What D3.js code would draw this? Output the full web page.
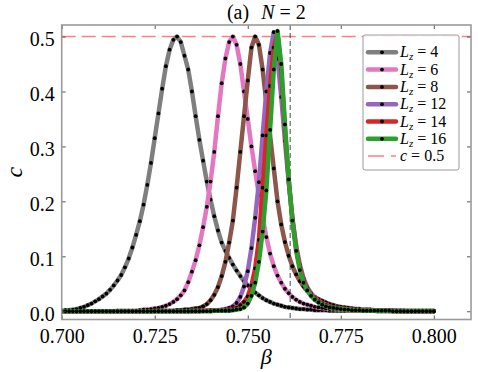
<!DOCTYPE html>
<html>
<head>
<meta charset="utf-8">
<script src="https://cdn.jsdelivr.net/npm/d3@7"></script>
<style>
  body { margin: 0; background: #fff; }
  svg text, svg tspan { font-family: "Liberation Serif", "Times New Roman", serif; }
</style>
</head>
<body>
<div id="chart"></div>
<script>
// beta grid (0.700 .. 0.800, one point every 0.001)
const betas = [
  0.700,0.701,0.702,0.703,0.704,0.705,0.706,0.707,0.708,0.709,
  0.710,0.711,0.712,0.713,0.714,0.715,0.716,0.717,0.718,0.719,
  0.720,0.721,0.722,0.723,0.724,0.725,0.726,0.727,0.728,0.729,
  0.730,0.731,0.732,0.733,0.734,0.735,0.736,0.737,0.738,0.739,
  0.740,0.741,0.742,0.743,0.744,0.745,0.746,0.747,0.748,0.749,
  0.750,0.751,0.752,0.753,0.754,0.755,0.756,0.757,0.758,0.759,
  0.760,0.761,0.762,0.763,0.764,0.765,0.766,0.767,0.768,0.769,
  0.770,0.771,0.772,0.773,0.774,0.775,0.776,0.777,0.778,0.779,
  0.780,0.781,0.782,0.783,0.784,0.785,0.786,0.787,0.788,0.789,
  0.790,0.791,0.792,0.793,0.794,0.795,0.796,0.797,0.798,0.799,
  0.800
];

const cLz4 = [
  0.001,0.002,0.002,0.003,0.004,0.006,0.008,0.011,0.014,0.018,
  0.022,0.027,0.032,0.039,0.047,0.056,0.066,0.080,0.096,0.116,
  0.139,0.164,0.194,0.230,0.270,0.315,0.360,0.405,0.446,0.476,
  0.494,0.500,0.490,0.465,0.440,0.400,0.355,0.312,0.274,0.236,
  0.203,0.173,0.147,0.125,0.110,0.097,0.085,0.074,0.064,0.055,
  0.047,0.040,0.034,0.029,0.024,0.020,0.017,0.014,0.012,0.010,
  0.008,0.007,0.006,0.005,0.004,0.004,0.003,0.003,0.002,0.002,
  0.002,0.002,0.001,0.001,0.001,0.001,0.001,0.001,0.001,0.001,
  0.001,0.001,0.001,0.001,0.001,0.000,0.000,0.000,0.000,0.000,
  0.000,0.000,0.000,0.000,0.000,0.000,0.000,0.000,0.000,0.000,
  0.000
];

const cLz6 = [
  0.000,0.000,0.000,0.000,0.000,0.000,0.000,0.000,0.000,0.000,
  0.000,0.000,0.000,0.000,0.000,0.001,0.001,0.001,0.001,0.001,
  0.001,0.002,0.003,0.003,0.004,0.005,0.006,0.008,0.010,0.013,
  0.017,0.022,0.029,0.038,0.053,0.072,0.093,0.120,0.153,0.190,
  0.236,0.290,0.355,0.415,0.460,0.490,0.500,0.485,0.450,0.400,
  0.350,0.300,0.255,0.212,0.172,0.135,0.105,0.082,0.065,0.052,
  0.041,0.033,0.026,0.021,0.017,0.014,0.012,0.010,0.008,0.007,
  0.006,0.005,0.004,0.004,0.003,0.003,0.003,0.002,0.002,0.002,
  0.002,0.001,0.001,0.001,0.001,0.001,0.001,0.001,0.001,0.001,
  0.001,0.001,0.000,0.000,0.000,0.000,0.000,0.000,0.000,0.000,
  0.000
];

const cLz8 = [
  0.000,0.000,0.000,0.000,0.000,0.000,0.000,0.000,0.000,0.000,
  0.000,0.000,0.000,0.000,0.000,0.000,0.000,0.000,0.000,0.000,
  0.000,0.000,0.000,0.000,0.000,0.001,0.001,0.001,0.001,0.001,
  0.001,0.002,0.002,0.003,0.003,0.004,0.005,0.006,0.009,0.013,
  0.020,0.030,0.044,0.064,0.090,0.125,0.165,0.225,0.290,0.355,
  0.420,0.480,0.500,0.485,0.440,0.380,0.320,0.260,0.200,0.158,
  0.126,0.101,0.082,0.067,0.055,0.045,0.037,0.031,0.026,0.022,
  0.019,0.016,0.013,0.011,0.009,0.008,0.007,0.006,0.005,0.004,
  0.004,0.003,0.003,0.003,0.002,0.002,0.002,0.002,0.002,0.001,
  0.001,0.001,0.001,0.001,0.001,0.001,0.001,0.001,0.001,0.001,
  0.001
];

const cLz12 = [
  0.000,0.000,0.000,0.000,0.000,0.000,0.000,0.000,0.000,0.000,
  0.000,0.000,0.000,0.000,0.000,0.000,0.000,0.000,0.000,0.000,
  0.000,0.000,0.000,0.000,0.000,0.000,0.000,0.000,0.000,0.000,
  0.000,0.000,0.000,0.000,0.000,0.001,0.001,0.001,0.001,0.001,
  0.002,0.002,0.002,0.003,0.004,0.006,0.009,0.015,0.026,0.045,
  0.073,0.115,0.170,0.235,0.320,0.400,0.470,0.508,0.460,0.390,
  0.310,0.235,0.170,0.120,0.085,0.060,0.044,0.033,0.025,0.019,
  0.015,0.012,0.009,0.007,0.006,0.005,0.004,0.003,0.003,0.002,
  0.002,0.002,0.002,0.001,0.001,0.001,0.001,0.001,0.001,0.001,
  0.001,0.001,0.001,0.000,0.000,0.000,0.000,0.000,0.000,0.000,
  0.000
];

const cLz14 = [
  0.000,0.000,0.000,0.000,0.000,0.000,0.000,0.000,0.000,0.000,
  0.000,0.000,0.000,0.000,0.000,0.000,0.000,0.000,0.000,0.000,
  0.000,0.000,0.000,0.000,0.000,0.000,0.000,0.000,0.000,0.000,
  0.000,0.000,0.000,0.000,0.000,0.000,0.000,0.000,0.001,0.001,
  0.001,0.001,0.001,0.002,0.002,0.003,0.004,0.006,0.011,0.017,
  0.027,0.047,0.078,0.130,0.225,0.320,0.410,0.480,0.505,0.440,
  0.330,0.240,0.168,0.115,0.080,0.056,0.041,0.030,0.023,0.018,
  0.014,0.011,0.008,0.007,0.005,0.004,0.004,0.003,0.002,0.002,
  0.002,0.001,0.001,0.001,0.001,0.001,0.001,0.001,0.001,0.001,
  0.000,0.000,0.000,0.000,0.000,0.000,0.000,0.000,0.000,0.000,
  0.000
];

const cLz16 = [
  0.000,0.000,0.000,0.000,0.000,0.000,0.000,0.000,0.000,0.000,
  0.000,0.000,0.000,0.000,0.000,0.000,0.000,0.000,0.000,0.000,
  0.000,0.000,0.000,0.000,0.000,0.000,0.000,0.000,0.000,0.000,
  0.000,0.000,0.000,0.000,0.000,0.000,0.000,0.000,0.000,0.000,
  0.000,0.001,0.001,0.001,0.001,0.001,0.002,0.003,0.004,0.007,
  0.014,0.028,0.052,0.090,0.145,0.220,0.330,0.440,0.510,0.450,
  0.340,0.240,0.165,0.110,0.075,0.052,0.038,0.028,0.021,0.016,
  0.012,0.009,0.007,0.006,0.005,0.004,0.003,0.003,0.002,0.002,
  0.002,0.001,0.001,0.001,0.001,0.001,0.001,0.001,0.001,0.000,
  0.000,0.000,0.000,0.000,0.000,0.000,0.000,0.000,0.000,0.000,
  0.000
];

const lzSizes = ["4", "6", "8", "12", "14", "16"];
const seriesValues = [cLz4, cLz6, cLz8, cLz12, cLz14, cLz16];
const colors = ["#7f7f7f", "#e377c2", "#8c564b", "#9467bd", "#d62728", "#2ca02c"];

const xTicks = [0.700, 0.725, 0.750, 0.775, 0.800];
const yTicks = [0.0, 0.1, 0.2, 0.3, 0.4, 0.5];
const cRef = 0.5;
const betaC = 0.7614;

const width = 478, height = 372;
const pLeft = 61.7, pRight = 471, pTop = 25, pBottom = 319.5;
const serifFont = "Liberation Serif";

const x = d3.scaleLinear().domain([0.70, 0.81]).range([pLeft, pRight]);
const y = d3.scaleLinear().domain([-0.015, 0.521]).range([pBottom, pTop]);

const svg = d3.select("#chart").append("svg")
  .attr("width", width)
  .attr("height", height)
  .attr("font-family", serifFont);

svg.append("clipPath").attr("id", "clip")
  .append("rect")
  .attr("x", pLeft).attr("y", pTop)
  .attr("width", pRight - pLeft).attr("height", pBottom - pTop);

const plot = svg.append("g").attr("clip-path", "url(#clip)");

// reference lines
plot.append("line")
  .attr("x1", pLeft).attr("x2", pRight)
  .attr("y1", y(cRef)).attr("y2", y(cRef))
  .attr("stroke", "#ff8080")
  .attr("stroke-width", 1.5)
  .attr("stroke-dasharray", "14,6");
plot.append("line")
  .attr("x1", x(betaC)).attr("x2", x(betaC))
  .attr("y1", pTop).attr("y2", pBottom)
  .attr("stroke", "#333")
  .attr("stroke-width", 0.9)
  .attr("stroke-dasharray", "5,3");

const line = d3.line()
  .x((d, i) => x(betas[i]))
  .y(d => y(d));

seriesValues.forEach((vals, k) => {
  plot.append("path")
    .datum(vals)
    .attr("d", line)
    .attr("fill", "none")
    .attr("stroke", colors[k])
    .attr("stroke-width", 4.5)
    .attr("stroke-linejoin", "round")
    .attr("stroke-linecap", "round");
  plot.append("g").selectAll("circle")
    .data(vals)
    .join("circle")
    .attr("cx", (d, i) => x(betas[i]))
    .attr("cy", d => y(d))
    .attr("r", 1.9)
    .attr("fill", "#000");
});

// axes (ticks pointing inward on all four sides)
const gx = svg.append("g")
  .attr("transform", `translate(0,${pBottom})`)
  .call(d3.axisBottom(x).tickValues(xTicks).tickFormat(d3.format(".3f")).tickSize(-4).tickPadding(9));
const gy = svg.append("g")
  .attr("transform", `translate(${pLeft},0)`)
  .call(d3.axisLeft(y).tickValues(yTicks).tickFormat(d3.format(".1f")).tickSize(-4).tickPadding(7));
const gt = svg.append("g")
  .attr("transform", `translate(0,${pTop})`)
  .call(d3.axisTop(x).tickValues(xTicks).tickFormat("").tickSize(-4));
const gr = svg.append("g")
  .attr("transform", `translate(${pRight},0)`)
  .call(d3.axisRight(y).tickValues(yTicks).tickFormat("").tickSize(-4));

[gx, gy, gt, gr].forEach(g => {
  g.attr("font-family", serifFont).attr("font-size", 20);
  g.select(".domain").remove();
  g.selectAll(".tick line").attr("stroke", "#444").attr("stroke-width", 0.9);
  g.selectAll("text").attr("fill", "#000");
});
gy.selectAll("text").attr("dy", "0.45em");

svg.append("rect")
  .attr("x", pLeft).attr("y", pTop)
  .attr("width", pRight - pLeft).attr("height", pBottom - pTop)
  .attr("fill", "none")
  .attr("stroke", "#9a9a9a")
  .attr("stroke-width", 1.6);

// title and axis labels
const title = svg.append("text")
  .attr("x", (pLeft + pRight) / 2)
  .attr("y", 19)
  .attr("text-anchor", "middle")
  .attr("font-size", 20);
title.append("tspan").text("(a)");
title.append("tspan").attr("dx", 12).attr("font-style", "italic").text("N");
title.append("tspan").text(" = 2");

svg.append("text")
  .attr("x", (pLeft + pRight) / 2)
  .attr("y", 364)
  .attr("text-anchor", "middle")
  .attr("font-size", 22)
  .attr("font-style", "italic")
  .text("β");

svg.append("text")
  .attr("transform", `translate(22,${(pTop + pBottom) / 2}) rotate(-90)`)
  .attr("text-anchor", "middle")
  .attr("font-size", 24)
  .attr("font-style", "italic")
  .text("c");

// legend
const lgX = 363, lgY = 35, lgW = 96, lgH = 135;
const rowH = 17.3, row0 = 52.3;
const legend = svg.append("g");
legend.append("rect")
  .attr("x", lgX).attr("y", lgY)
  .attr("width", lgW).attr("height", lgH)
  .attr("rx", 2)
  .attr("fill", "#fff")
  .attr("fill-opacity", 0.9)
  .attr("stroke", "#9a9a9a")
  .attr("stroke-width", 1);

lzSizes.forEach((lz, k) => {
  const ry = row0 + k * rowH;
  legend.append("line")
    .attr("x1", 368).attr("x2", 396)
    .attr("y1", ry).attr("y2", ry)
    .attr("stroke", colors[k])
    .attr("stroke-width", 4.5)
    .attr("stroke-linecap", "round");
  legend.append("circle")
    .attr("cx", 382).attr("cy", ry).attr("r", 1.9).attr("fill", "#000");
  const t = legend.append("text")
    .attr("x", 400).attr("y", ry + 5)
    .attr("font-size", 16);
  t.append("tspan").attr("font-style", "italic").text("L");
  t.append("tspan").attr("dy", 3).attr("font-style", "italic").attr("font-size", 11).text("z");
  t.append("tspan").attr("dy", -3).text(" = " + lz);
});

const ryRef = row0 + 6 * rowH;
legend.append("line")
  .attr("x1", 368).attr("x2", 396)
  .attr("y1", ryRef).attr("y2", ryRef)
  .attr("stroke", "#ff8080")
  .attr("stroke-width", 1.5)
  .attr("stroke-dasharray", "16,7");
const tr = legend.append("text")
  .attr("x", 400).attr("y", ryRef + 5)
  .attr("font-size", 16);
tr.append("tspan").attr("font-style", "italic").text("c");
tr.append("tspan").text(" = " + cRef.toFixed(1));
</script>
</body>
</html>
